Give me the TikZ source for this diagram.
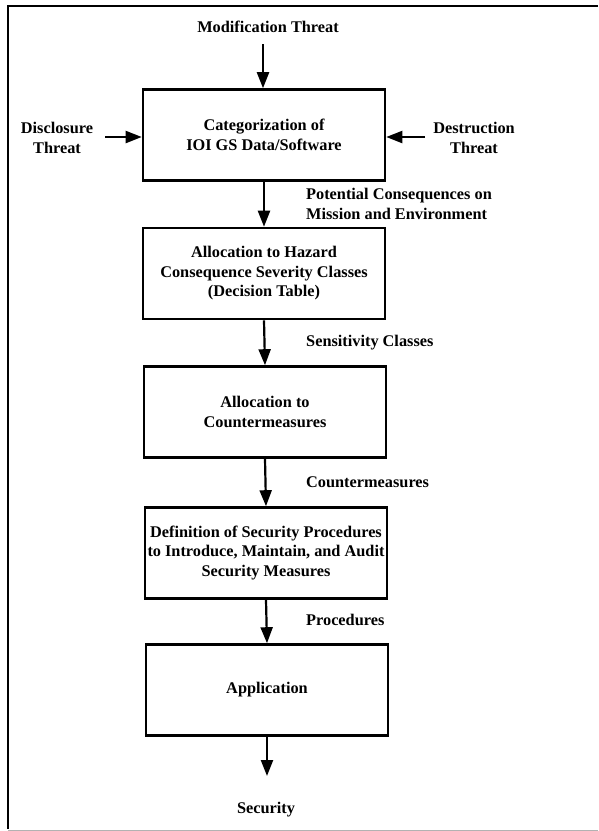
\documentclass[tikz,border=0pt]{standalone}
\usepackage{fontspec}
\setmainfont{Liberation Serif}
\usetikzlibrary{arrows.meta}
\begin{document}
\begin{tikzpicture}[x=1pt,y=-1pt,
  stepbox/.style={draw,line width=2.6pt,minimum width=242pt,minimum height=91pt,align=center,font=\fontsize{16.3}{19.5}\selectfont\bfseries,inner sep=2pt},
  lbl/.style={align=left,anchor=west,font=\fontsize{16.3}{19.5}\selectfont\bfseries,inner sep=2pt},
  txt/.style={align=center,font=\fontsize{16.3}{19.5}\selectfont\bfseries},
  flow/.style={line width=2.2pt,-{Triangle[length=16pt,width=12pt]}}]
\useasboundingbox (0,0) rectangle (598,831);
\fill[white] (0,0) rectangle (598,831);
\draw[line width=2pt] (598,6) -- (8,6) -- (8,829);
\draw[line width=0.8pt,gray!60] (8,830) -- (598,830);
\node[stepbox] (b1) at (264,135) {Categorization of\\IOI GS Data/Software};
\node[stepbox] (b2) at (264,273.5) {Allocation to Hazard\\Consequence Severity Classes\\(Decision Table)};
\node[stepbox] (b3) at (265,412) {Allocation to\\Countermeasures};
\node[stepbox] (b4) at (266,553) {Definition of Security Procedures\\to Introduce, Maintain, and Audit\\Security Measures};
\node[stepbox] (b5) at (267,690) {Application};
\node[txt] (mod) at (268,27) {Modification Threat};
\node[txt] (dis) at (57,138) {Disclosure\\Threat};
\node[txt] (des) at (474,138) {Destruction\\Threat};
\node[txt] (sec) at (266,810) {Security};
\coordinate (modend) at (263,44);
\coordinate (disend) at (105,137);
\coordinate (desend) at (425,137);
\coordinate (secend) at (267,776);
\draw[flow] (modend) -- (b1.north -| modend);
\draw[flow] (disend) -- (b1.west |- disend);
\draw[flow] (desend) -- (b1.east |- desend);
\draw[flow] (b1.south) -- (b2.north);
\draw[flow] (b2.south) -- (b3.north);
\draw[flow] (b3.south) -- (b4.north);
\draw[flow] (b4.south) -- (b5.north);
\draw[flow] (b5.south) -- (secend);
\node[lbl] (l1) at (304,204) {Potential Consequences on\\Mission and Environment};
\node[lbl] (l2) at (304,343) {Sensitivity Classes};
\node[lbl] (l3) at (304,482) {Countermeasures};
\node[lbl] (l4) at (304,620) {Procedures};
\end{tikzpicture}
\end{document}
